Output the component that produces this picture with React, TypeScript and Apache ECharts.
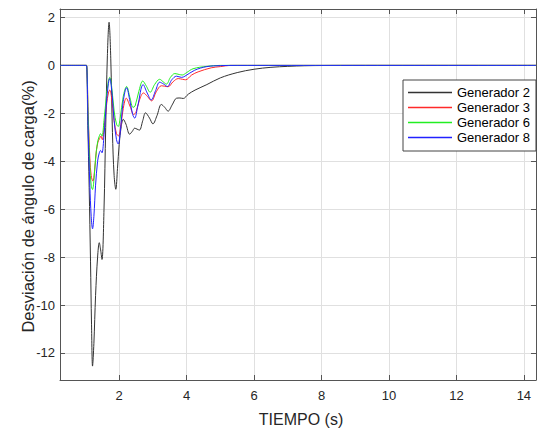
import React, { useEffect, useRef } from "react";
import * as echarts from "echarts";

const seriesNames = ["Generador 2", "Generador 3", "Generador 6", "Generador 8"];
const seriesColors = ["#333333", "#ff2a2a", "#22ee22", "#2222ff"];

const gen2Time = [0.245, 1.0, 1.03, 1.07, 1.11, 1.15, 1.18, 1.21, 1.25, 1.3, 1.36, 1.41, 1.45, 1.49, 1.55, 1.6, 1.65, 1.7, 1.75, 1.8, 1.85, 1.9, 1.95, 2.0, 2.06, 2.12, 2.2, 2.31, 2.39, 2.46, 2.53, 2.6, 2.7, 2.78, 2.9, 3.0, 3.12, 3.25, 3.35, 3.45, 3.57, 3.7, 3.8, 3.9, 4.05, 4.25, 4.6, 5.0, 5.5, 6.0, 6.5, 7.0, 7.5, 8.0, 9.0, 14.36];
const gen2Values = [0, 0, 0, -2.5, -5.1, -8.2, -10.8, -12.55, -11.6, -9.6, -8.0, -7.4, -7.7, -8.1, -6.0, -2.6, 0.4, 1.8, 0.3, -2.8, -4.6, -5.17, -4.3, -3.3, -2.55, -2.25, -2.45, -2.87, -2.75, -2.62, -2.66, -2.7, -2.3, -1.98, -2.2, -2.44, -2.1, -1.63, -1.75, -1.91, -1.65, -1.37, -1.36, -1.38, -1.2, -1.03, -0.8, -0.52, -0.3, -0.16, -0.08, -0.04, -0.015, -0.005, 0, 0];

const gen3Time = [0.245, 1.0, 1.03, 1.08, 1.13, 1.17, 1.22, 1.27, 1.32, 1.37, 1.42, 1.46, 1.5, 1.56, 1.63, 1.68, 1.72, 1.77, 1.85, 1.92, 1.98, 2.04, 2.12, 2.21, 2.32, 2.43, 2.5, 2.6, 2.72, 2.84, 2.96, 3.1, 3.25, 3.35, 3.45, 3.6, 3.75, 3.88, 3.97, 4.15, 4.34, 4.73, 5.0, 5.3, 14.36];
const gen3Values = [0, 0, 0, -2.0, -3.9, -4.6, -4.83, -4.4, -3.6, -3.2, -3.05, -2.95, -3.1, -2.5, -1.6, -1.15, -1.03, -1.3, -2.3, -2.85, -2.94, -2.6, -1.8, -1.37, -1.7, -2.05, -1.95, -1.45, -1.15, -1.3, -1.48, -1.1, -0.85, -0.87, -0.89, -0.68, -0.55, -0.58, -0.6, -0.4, -0.27, -0.1, -0.05, 0, 0];

const gen6Time = [0.245, 1.0, 1.03, 1.08, 1.13, 1.17, 1.21, 1.25, 1.3, 1.36, 1.41, 1.45, 1.49, 1.55, 1.62, 1.68, 1.72, 1.77, 1.85, 1.92, 1.97, 2.03, 2.12, 2.22, 2.32, 2.41, 2.47, 2.58, 2.7, 2.8, 2.92, 3.05, 3.2, 3.3, 3.4, 3.52, 3.65, 3.78, 3.87, 4.0, 4.19, 4.6, 5.0, 14.36];
const gen6Values = [0, 0, 0, -2.2, -4.2, -5.0, -5.18, -4.8, -3.9, -3.2, -2.95, -2.85, -2.95, -2.3, -1.3, -0.65, -0.5, -0.8, -1.9, -2.45, -2.55, -2.2, -1.3, -0.88, -1.35, -1.75, -1.7, -1.1, -0.65, -0.85, -1.12, -0.8, -0.58, -0.68, -0.78, -0.5, -0.34, -0.38, -0.4, -0.3, -0.14, -0.04, 0, 0];

const gen8Time = [0.245, 1.0, 1.03, 1.08, 1.13, 1.17, 1.21, 1.25, 1.3, 1.36, 1.41, 1.45, 1.49, 1.55, 1.62, 1.68, 1.72, 1.77, 1.85, 1.92, 1.97, 2.03, 2.12, 2.22, 2.32, 2.4, 2.46, 2.55, 2.71, 2.83, 2.95, 3.08, 3.2, 3.32, 3.43, 3.56, 3.7, 3.85, 3.95, 4.24, 4.6, 5.0, 5.5, 14.36];
const gen8Values = [0, 0, 0, -2.7, -5.0, -6.3, -6.82, -6.3, -5.0, -4.0, -3.65, -3.55, -3.65, -2.9, -1.6, -0.75, -0.55, -0.9, -2.3, -3.1, -3.28, -2.8, -1.5, -0.93, -1.5, -2.05, -2.2, -1.7, -0.8, -1.15, -1.44, -1.05, -0.7, -0.78, -0.88, -0.6, -0.45, -0.5, -0.45, -0.2, -0.05, -0.01, 0, 0];

const xTickValues = [2, 4, 6, 8, 10, 12, 14];
const yTickValues = [-12, -10, -8, -6, -4, -2, 0, 2];

const X_MIN = 0.245;
const X_MAX = 14.36;
const Y_MIN = -13.13;
const Y_MAX = 2.354;

const FONT = "'Liberation Sans', Arial, Helvetica, sans-serif";
const AXIS_COLOR = "#555555";
const TEXT_COLOR = "#262626";
const GRID_COLOR = "#e0e0e0";

export default function App() {
  const ref = useRef<HTMLDivElement>(null);

  useEffect(() => {
    if (!ref.current) return;
    const chart = echarts.init(ref.current, null, { renderer: "svg" });
    const pairs = (t: number[], v: number[]) => t.map((x, i) => [x, v[i]]);
    const times = [gen2Time, gen3Time, gen6Time, gen8Time];
    const values = [gen2Values, gen3Values, gen6Values, gen8Values];

    const tickStyle = { show: true, inside: true, length: 5, lineStyle: { color: AXIS_COLOR, width: 1 } };
    const axisLine = { show: true, onZero: false, lineStyle: { color: AXIS_COLOR, width: 1 } };

    chart.setOption({
      animation: false,
      backgroundColor: "#ffffff",
      grid: { left: 60, right: 1, top: 9, bottom: 45, containLabel: false },
      legend: {
        orient: "vertical",
        left: 403,
        top: 80,
        data: seriesNames,
        icon: "rect",
        itemWidth: 44,
        itemHeight: 1.5,
        itemGap: 2,
        padding: [6, 6, 7, 5],
        backgroundColor: "#ffffff",
        borderColor: "#444444",
        borderWidth: 1,
        z: 20,
        textStyle: { fontSize: 13, color: "#000000", fontFamily: FONT, lineHeight: 13 },
      },
      xAxis: [
        {
          type: "value",
          min: X_MIN,
          max: X_MAX,
          position: "bottom",
          axisLine,
          axisTick: { ...tickStyle, customValues: xTickValues },
          axisLabel: { customValues: xTickValues, color: TEXT_COLOR, fontSize: 13, fontFamily: FONT, margin: 9 },
          splitLine: { show: true, lineStyle: { color: GRID_COLOR, width: 1 } },
          name: "TIEMPO (s)",
          nameLocation: "middle",
          nameGap: 31,
          nameMoveOverlap: false,
          nameTextStyle: { fontSize: 16, color: TEXT_COLOR, fontFamily: FONT, padding: [0, 0, 0, 6] },
        },
        {
          type: "value",
          min: X_MIN,
          max: X_MAX,
          position: "top",
          axisLine,
          axisTick: { ...tickStyle, customValues: xTickValues },
          axisLabel: { show: false, customValues: xTickValues },
          splitLine: { show: false },
        },
      ],
      yAxis: [
        {
          type: "value",
          min: Y_MIN,
          max: Y_MAX,
          position: "left",
          axisLine,
          axisTick: { ...tickStyle, customValues: yTickValues },
          axisLabel: { customValues: yTickValues, color: TEXT_COLOR, fontSize: 13, fontFamily: FONT, margin: 5 },
          splitLine: { show: true, lineStyle: { color: GRID_COLOR, width: 1 } },
          name: "Desviación de ángulo de carga(%)",
          nameLocation: "middle",
          nameGap: 24,
          nameMoveOverlap: false,
          nameRotate: 90,
          nameTextStyle: { fontSize: 16.5, color: TEXT_COLOR, fontFamily: FONT, padding: [0, 24, 0, 0] },
        },
        {
          type: "value",
          min: Y_MIN,
          max: Y_MAX,
          position: "right",
          axisLine,
          axisTick: { ...tickStyle, customValues: yTickValues },
          axisLabel: { show: false, customValues: yTickValues },
          splitLine: { show: false },
        },
      ],
      series: seriesNames.map((name, i) => ({
        name,
        type: "line",
        xAxisIndex: 0,
        yAxisIndex: 0,
        data: pairs(times[i], values[i]),
        showSymbol: false,
        symbol: "none",
        smooth: 0.35,
        color: seriesColors[i],
        lineStyle: { color: seriesColors[i], width: 1 },
        silent: true,
        z: 2 + i,
      })),
    });

    return () => chart.dispose();
  }, []);

  return (
    <div
      ref={ref}
      style={{ position: "absolute", left: 0, top: 0, width: 537, height: 432, background: "#ffffff" }}
    />
  );
}
